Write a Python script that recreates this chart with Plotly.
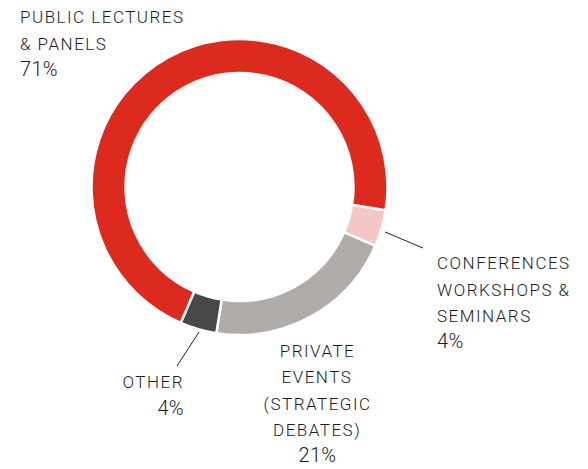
import plotly.graph_objects as go

# ---- data ----
categories = ["CONFERENCES WORKSHOPS & SEMINARS", "PRIVATE EVENTS (STRATEGIC DEBATES)", "OTHER", "PUBLIC LECTURES & PANELS"]
values = [4, 21, 4, 71]
colors = ["#F4C6C4", "#AFACAA", "#474745", "#DC2A1F"]
label_lines = [
    ["CONFERENCES", "WORKSHOPS &", "SEMINARS"],
    ["PRIVATE", "EVENTS", "(STRATEGIC", "DEBATES)"],
    ["OTHER"],
    ["PUBLIC LECTURES", "& PANELS"],
]
pct_labels = [f"{v}%" for v in values]

W, H = 588, 469
cx, cy, R = 239.5, 187.0, 148.0

fig = go.Figure()
fig.add_trace(go.Pie(
    values=values,
    labels=categories,
    sort=False,
    direction="clockwise",
    rotation=99,
    hole=0.77,
    textinfo="none",
    hoverinfo="label+percent",
    marker=dict(colors=colors, line=dict(color="white", width=2.5)),
    domain=dict(x=[(cx - R) / W, (cx + R) / W], y=[1 - (cy + R) / H, 1 - (cy - R) / H]),
    showlegend=False,
))

FONT = "Roboto"
TXT = "#1c1c1c"
LS, PS = 17, 20  # label / percent font size

# block layout: (anchor x px, xanchor, first baseline px, line step)
blocks = [
    (435, "left", 269, 26.5),      # conferences
    (317, "center", 356.7, 26.5),  # private events
    (186, "right", 387.7, 27.3),   # other
    (18, "left", 23, 26.8),        # public lectures
]

annotations = []
for i, (xp, xa, b0, step) in enumerate(blocks):
    lines = label_lines[i]
    for j, ln in enumerate(lines):
        base = b0 + j * step
        annotations.append(dict(
            x=xp / W, y=1 - (base - 0.34 * LS) / H, xref="paper", yref="paper",
            text=ln, showarrow=False, xanchor=xa, yanchor="middle", align=xa,
            font=dict(family=FONT, size=LS, color=TXT, weight=300),
        ))
    base = b0 + len(lines) * step - 0.5
    annotations.append(dict(
        x=xp / W, y=1 - (base - 0.34 * PS) / H, xref="paper", yref="paper",
        text=pct_labels[i], showarrow=False, xanchor=xa, yanchor="middle", align=xa,
        font=dict(family=FONT, size=PS, color=TXT, weight=300),
    ))

leaders = [((385, 232), (423, 248)), ((199, 332), (177, 366))]
shapes = []
for (x0, y0), (x1, y1) in leaders:
    shapes.append(dict(type="line", xref="paper", yref="paper",
                       x0=x0 / W, y0=1 - y0 / H, x1=x1 / W, y1=1 - y1 / H,
                       line=dict(color="#222222", width=1)))

fig.update_layout(
    width=W, height=H,
    margin=dict(l=0, r=0, t=0, b=0),
    paper_bgcolor="white", plot_bgcolor="white",
    annotations=annotations, shapes=shapes,
)

post = """
var st = document.createElement('style');
st.textContent = 'body{margin:0 !important;overflow:hidden;} .annotation-text{letter-spacing:1.5px;} .annotation-text[style*="font-size: 20px"]{letter-spacing:0.3px;}';
document.head.appendChild(st);
"""
fig.write_html("out.html", post_script=post, config={"displayModeBar": False})
